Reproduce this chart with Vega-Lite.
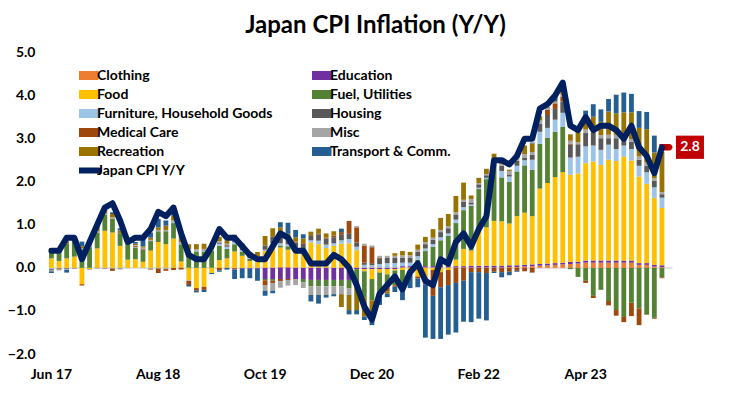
{
  "$schema": "https://vega.github.io/schema/vega-lite/v6.json",
  "width": 623,
  "height": 301.5,
  "autosize": {"type": "none"},
  "padding": {"left": 49, "top": 52.5, "right": 80, "bottom": 40},
  "background": "white",
  "config": {"view": {"stroke": null}, "font": "Lato"},
  "title": {"text": "Japan CPI Inflation (Y/Y)", "font": "Lato", "fontSize": 24, "fontWeight": "bold", "color": "black", "anchor": "middle", "frame": "group", "offset": 8, "dx": 15},
  "datasets": {
    "bars": [
      {"m":"Jun 17","Clothing":0,"Education":-0.01,"Food":0.22,"Fuel":0.21,"Furniture":-0.02,"Housing":-0.02,"Medical":0.01,"Misc":-0.03,"Recreation":0.02,"Transport":-0.04},
      {"m":"Jul 17","Clothing":0,"Education":0,"Food":0.16,"Fuel":0.23,"Furniture":-0.01,"Housing":-0.01,"Medical":-0.02,"Misc":-0.02,"Recreation":0.03,"Transport":0.02},
      {"m":"Aug 17","Clothing":0,"Education":0,"Food":0.22,"Fuel":0.35,"Furniture":-0.01,"Housing":-0.02,"Medical":0.01,"Misc":-0.02,"Recreation":0.04,"Transport":-0.06},
      {"m":"Sep 17","Clothing":0,"Education":0,"Food":0.26,"Fuel":0.38,"Furniture":-0.01,"Housing":-0.01,"Medical":0.01,"Misc":0.01,"Recreation":0.03,"Transport":0.01},
      {"m":"Oct 17","Clothing":0,"Education":0,"Food":-0.38,"Fuel":0.42,"Furniture":0.01,"Housing":0.01,"Medical":-0.03,"Misc":0.02,"Recreation":0.04,"Transport":0.11},
      {"m":"Nov 17","Clothing":0,"Education":0,"Food":-0.03,"Fuel":0.48,"Furniture":0.02,"Housing":-0.01,"Medical":0.01,"Misc":0.02,"Recreation":0.05,"Transport":0.04},
      {"m":"Dec 17","Clothing":0,"Education":0,"Food":0.45,"Fuel":0.36,"Furniture":0.01,"Housing":-0.01,"Medical":0.01,"Misc":0.02,"Recreation":0.06,"Transport":0.08},
      {"m":"Jan 18","Clothing":0,"Education":0,"Food":0.86,"Fuel":0.37,"Furniture":-0.01,"Housing":-0.01,"Medical":0.01,"Misc":0.02,"Recreation":0.07,"Transport":0.06},
      {"m":"Feb 18","Clothing":0,"Education":0,"Food":0.82,"Fuel":0.32,"Furniture":-0.01,"Housing":-0.01,"Medical":-0.05,"Misc":0.03,"Recreation":0.08,"Transport":0.04},
      {"m":"Mar 18","Clothing":0,"Education":0,"Food":0.51,"Fuel":0.29,"Furniture":-0.01,"Housing":-0.01,"Medical":0.01,"Misc":-0.02,"Recreation":0.06,"Transport":0.05},
      {"m":"Apr 18","Clothing":0,"Education":0,"Food":0.19,"Fuel":0.36,"Furniture":-0.01,"Housing":0.01,"Medical":0.01,"Misc":0.02,"Recreation":0.03,"Transport":0.01},
      {"m":"May 18","Clothing":0,"Education":0,"Food":0.2,"Fuel":0.27,"Furniture":0.01,"Housing":0.01,"Medical":0.02,"Misc":0.02,"Recreation":0.03,"Transport":0.04},
      {"m":"Jun 18","Clothing":0,"Education":0,"Food":0.14,"Fuel":0.28,"Furniture":-0.01,"Housing":0.01,"Medical":0.02,"Misc":0.02,"Recreation":0.03,"Transport":0.17},
      {"m":"Jul 18","Clothing":0,"Education":0,"Food":0.4,"Fuel":0.22,"Furniture":-0.02,"Housing":0.01,"Medical":-0.02,"Misc":0.02,"Recreation":0.05,"Transport":0.12},
      {"m":"Aug 18","Clothing":0,"Education":0,"Food":0.6,"Fuel":0.25,"Furniture":-0.01,"Housing":-0.01,"Medical":-0.1,"Misc":0.03,"Recreation":0.06,"Transport":0.2},
      {"m":"Sep 18","Clothing":0,"Education":0,"Food":0.55,"Fuel":0.3,"Furniture":-0.02,"Housing":-0.01,"Medical":-0.04,"Misc":0.03,"Recreation":0.1,"Transport":0.12},
      {"m":"Oct 18","Clothing":0,"Education":0,"Food":0.68,"Fuel":0.36,"Furniture":0.02,"Housing":0.01,"Medical":-0.05,"Misc":0.03,"Recreation":0.12,"Transport":0.1},
      {"m":"Nov 18","Clothing":0,"Education":0,"Food":0.15,"Fuel":0.4,"Furniture":0.01,"Housing":0.01,"Medical":-0.04,"Misc":0.03,"Recreation":0.1,"Transport":0.04},
      {"m":"Dec 18","Clothing":0,"Education":0,"Food":-0.29,"Fuel":0.39,"Furniture":-0.01,"Housing":0.01,"Medical":-0.1,"Misc":0.03,"Recreation":0.12,"Transport":-0.03},
      {"m":"Jan 19","Clothing":0,"Education":0,"Food":-0.47,"Fuel":0.38,"Furniture":0.01,"Housing":0.01,"Medical":-0.06,"Misc":0.03,"Recreation":0.12,"Transport":-0.04},
      {"m":"Feb 19","Clothing":0,"Education":0,"Food":-0.44,"Fuel":0.38,"Furniture":0.02,"Housing":0.01,"Medical":-0.07,"Misc":0.03,"Recreation":0.12,"Transport":-0.05},
      {"m":"Mar 19","Clothing":0,"Education":0,"Food":-0.12,"Fuel":0.4,"Furniture":0.01,"Housing":0.01,"Medical":0.01,"Misc":0.03,"Recreation":0.1,"Transport":-0.02},
      {"m":"Apr 19","Clothing":0,"Education":0,"Food":0.18,"Fuel":0.33,"Furniture":0.05,"Housing":0.03,"Medical":-0.06,"Misc":0.03,"Recreation":0.1,"Transport":-0.03},
      {"m":"May 19","Clothing":0,"Education":0,"Food":0.22,"Fuel":0.22,"Furniture":0.05,"Housing":0.03,"Medical":0.01,"Misc":0.03,"Recreation":0.08,"Transport":-0.04},
      {"m":"Jun 19","Clothing":0,"Education":-0.01,"Food":0.38,"Fuel":0.17,"Furniture":0.05,"Housing":0.04,"Medical":-0.03,"Misc":0.03,"Recreation":0.1,"Transport":-0.22},
      {"m":"Jul 19","Clothing":0,"Education":-0.02,"Food":0.28,"Fuel":0.1,"Furniture":0.03,"Housing":0.03,"Medical":0.02,"Misc":0.03,"Recreation":0.08,"Transport":-0.22},
      {"m":"Aug 19","Clothing":0,"Education":-0.02,"Food":0.16,"Fuel":0.05,"Furniture":0.02,"Housing":0.03,"Medical":0.02,"Misc":0.03,"Recreation":0.06,"Transport":-0.22},
      {"m":"Sep 19","Clothing":0,"Education":-0.02,"Food":0.14,"Fuel":0.02,"Furniture":0.03,"Housing":0.03,"Medical":0.03,"Misc":0.02,"Recreation":0.1,"Transport":-0.28},
      {"m":"Oct 19","Clothing":0.01,"Education":-0.26,"Food":0.38,"Fuel":-0.03,"Furniture":0.03,"Housing":0.1,"Medical":-0.12,"Misc":-0.12,"Recreation":0.22,"Transport":-0.12},
      {"m":"Nov 19","Clothing":0.01,"Education":-0.26,"Food":0.52,"Fuel":-0.04,"Furniture":0.04,"Housing":0.15,"Medical":-0.05,"Misc":-0.18,"Recreation":0.2,"Transport":-0.06},
      {"m":"Dec 19","Clothing":0.02,"Education":-0.26,"Food":0.45,"Fuel":0.05,"Furniture":0.05,"Housing":0.15,"Medical":-0.05,"Misc":-0.15,"Recreation":0.22,"Transport":0.12},
      {"m":"Jan 20","Clothing":0.02,"Education":-0.26,"Food":0.4,"Fuel":0.08,"Furniture":0.05,"Housing":0.12,"Medical":-0.02,"Misc":-0.13,"Recreation":0.12,"Transport":0.26},
      {"m":"Feb 20","Clothing":0.01,"Education":-0.26,"Food":0.35,"Fuel":0.05,"Furniture":0.06,"Housing":0.12,"Medical":0.02,"Misc":-0.14,"Recreation":0.1,"Transport":0.17},
      {"m":"Mar 20","Clothing":0.01,"Education":-0.26,"Food":0.38,"Fuel":-0.08,"Furniture":0.05,"Housing":0.12,"Medical":0.02,"Misc":-0.13,"Recreation":0.1,"Transport":0.1},
      {"m":"Apr 20","Clothing":0.01,"Education":-0.28,"Food":0.58,"Fuel":-0.15,"Furniture":0.05,"Housing":0.1,"Medical":0.02,"Misc":-0.2,"Recreation":0.08,"Transport":-0.15},
      {"m":"May 20","Clothing":0.01,"Education":-0.28,"Food":0.54,"Fuel":-0.15,"Furniture":0.08,"Housing":0.14,"Medical":0.02,"Misc":-0.2,"Recreation":0.12,"Transport":-0.2},
      {"m":"Jun 20","Clothing":0.01,"Education":-0.28,"Food":0.45,"Fuel":-0.15,"Furniture":0.08,"Housing":0.14,"Medical":0.02,"Misc":-0.2,"Recreation":0.1,"Transport":-0.06},
      {"m":"Jul 20","Clothing":0.01,"Education":-0.28,"Food":0.5,"Fuel":-0.15,"Furniture":0.06,"Housing":0.14,"Medical":0.04,"Misc":-0.18,"Recreation":0.1,"Transport":-0.05},
      {"m":"Aug 20","Clothing":0.01,"Education":-0.28,"Food":0.55,"Fuel":-0.15,"Furniture":0.08,"Housing":0.14,"Medical":0.05,"Misc":-0.18,"Recreation":-0.3,"Transport":0.08},
      {"m":"Sep 20","Clothing":0.01,"Education":-0.28,"Food":0.56,"Fuel":-0.2,"Furniture":0.1,"Housing":0.12,"Medical":0.3,"Misc":-0.15,"Recreation":-0.35,"Transport":-0.1},
      {"m":"Oct 20","Clothing":0.01,"Education":-0.03,"Food":0.4,"Fuel":-0.35,"Furniture":0.08,"Housing":0.1,"Medical":0.35,"Misc":0.03,"Recreation":-0.6,"Transport":-0.1},
      {"m":"Nov 20","Clothing":0.01,"Education":-0.03,"Food":-0.05,"Fuel":-0.6,"Furniture":0.06,"Housing":0.05,"Medical":0.4,"Misc":0.04,"Recreation":-0.45,"Transport":-0.08},
      {"m":"Dec 20","Clothing":0.01,"Education":-0.03,"Food":-0.23,"Fuel":-0.5,"Furniture":0.05,"Housing":0.05,"Medical":0.37,"Misc":0.04,"Recreation":-0.45,"Transport":-0.12},
      {"m":"Jan 21","Clothing":0.01,"Education":-0.03,"Food":-0.08,"Fuel":-0.45,"Furniture":0.08,"Housing":0.12,"Medical":0.02,"Misc":0.05,"Recreation":-0.15,"Transport":-0.15},
      {"m":"Feb 21","Clothing":0.01,"Education":-0.03,"Food":-0.12,"Fuel":-0.3,"Furniture":0.1,"Housing":0.12,"Medical":-0.1,"Misc":0.05,"Recreation":-0.05,"Transport":-0.08},
      {"m":"Mar 21","Clothing":0.01,"Education":-0.03,"Food":-0.03,"Fuel":-0.35,"Furniture":0.1,"Housing":0.12,"Medical":-0.03,"Misc":0.05,"Recreation":0.06,"Transport":-0.12},
      {"m":"Apr 21","Clothing":0.01,"Education":0.03,"Food":-0.05,"Fuel":-0.3,"Furniture":0.08,"Housing":0.12,"Medical":-0.05,"Misc":0.05,"Recreation":0.1,"Transport":-0.35},
      {"m":"May 21","Clothing":0.01,"Education":0.03,"Food":-0.1,"Fuel":-0.05,"Furniture":0.08,"Housing":0.12,"Medical":-0.02,"Misc":0.05,"Recreation":0.08,"Transport":-0.3},
      {"m":"Jun 21","Clothing":0.01,"Education":0.03,"Food":-0.2,"Fuel":0.15,"Furniture":0.08,"Housing":0.1,"Medical":-0.05,"Misc":0.05,"Recreation":0.12,"Transport":-0.2},
      {"m":"Jul 21","Clothing":0.01,"Education":0.03,"Food":-0.23,"Fuel":0.35,"Furniture":0.06,"Housing":0.1,"Medical":-0.15,"Misc":0.05,"Recreation":0.12,"Transport":-1.24},
      {"m":"Aug 21","Clothing":0.01,"Education":0.03,"Food":-0.05,"Fuel":0.45,"Furniture":0.06,"Housing":0.1,"Medical":-0.6,"Misc":0.05,"Recreation":0.2,"Transport":-1.0},
      {"m":"Sep 21","Clothing":0.01,"Education":0.03,"Food":-0.1,"Fuel":0.6,"Furniture":0.07,"Housing":0.12,"Medical":-0.35,"Misc":0.05,"Recreation":0.28,"Transport":-1.2},
      {"m":"Oct 21","Clothing":0.01,"Education":0.03,"Food":-0.05,"Fuel":0.7,"Furniture":0.06,"Housing":0.12,"Medical":-0.35,"Misc":0.05,"Recreation":0.28,"Transport":-1.15},
      {"m":"Nov 21","Clothing":0.01,"Education":0.03,"Food":0.15,"Fuel":0.85,"Furniture":0.08,"Housing":0.12,"Medical":-0.35,"Misc":0.05,"Recreation":0.38,"Transport":-1.15},
      {"m":"Dec 21","Clothing":0.01,"Education":0.03,"Food":0.4,"Fuel":0.9,"Furniture":0.07,"Housing":0.12,"Medical":-0.3,"Misc":0.05,"Recreation":0.4,"Transport":-0.95},
      {"m":"Jan 22","Clothing":0.01,"Education":0.04,"Food":0.35,"Fuel":1.04,"Furniture":0.03,"Housing":0.05,"Medical":-0.1,"Misc":0.08,"Recreation":0.08,"Transport":-1.16},
      {"m":"Feb 22","Clothing":0.01,"Education":0.04,"Food":0.85,"Fuel":0.93,"Furniture":0.03,"Housing":0.08,"Medical":-0.1,"Misc":0.03,"Recreation":0.12,"Transport":-1.08},
      {"m":"Mar 22","Clothing":0.01,"Education":0.04,"Food":0.89,"Fuel":1.12,"Furniture":0.03,"Housing":0.06,"Medical":-0.12,"Misc":0.03,"Recreation":0.12,"Transport":-1.1},
      {"m":"Apr 22","Clothing":0.01,"Education":0.04,"Food":1.04,"Fuel":1.31,"Furniture":0.05,"Housing":0.06,"Medical":-0.09,"Misc":0.04,"Recreation":0.1,"Transport":-0.03},
      {"m":"May 22","Clothing":0.01,"Education":0.04,"Food":1.03,"Fuel":1.02,"Furniture":0.15,"Housing":0.12,"Medical":-0.1,"Misc":0.04,"Recreation":0.1,"Transport":-0.12},
      {"m":"Jun 22","Clothing":0.02,"Education":0.04,"Food":0.97,"Fuel":0.97,"Furniture":0.12,"Housing":0.05,"Medical":-0.09,"Misc":0.08,"Recreation":0.03,"Transport":-0.08},
      {"m":"Jul 22","Clothing":0.02,"Education":0.04,"Food":1.14,"Fuel":1.04,"Furniture":0.13,"Housing":0.12,"Medical":-0.07,"Misc":0.05,"Recreation":0.1,"Transport":-0.02},
      {"m":"Aug 22","Clothing":0.03,"Education":0.04,"Food":1.21,"Fuel":1.1,"Furniture":0.12,"Housing":0.06,"Medical":-0.08,"Misc":0.08,"Recreation":0.2,"Transport":0},
      {"m":"Sep 22","Clothing":0.04,"Education":0.04,"Food":1.12,"Fuel":1.08,"Furniture":0.23,"Housing":0.12,"Medical":-0.11,"Misc":0.06,"Recreation":0.2,"Transport":0.02},
      {"m":"Oct 22","Clothing":0.05,"Education":0.04,"Food":1.75,"Fuel":1.04,"Furniture":0.28,"Housing":0.18,"Medical":0,"Misc":0.08,"Recreation":0.1,"Transport":0},
      {"m":"Nov 22","Clothing":0.06,"Education":0.04,"Food":1.87,"Fuel":1.05,"Furniture":0.23,"Housing":0.3,"Medical":0.12,"Misc":0.04,"Recreation":0.02,"Transport":0},
      {"m":"Dec 22","Clothing":0.07,"Education":0.04,"Food":2.0,"Fuel":1.05,"Furniture":0.28,"Housing":0.25,"Medical":0.13,"Misc":0.03,"Recreation":0.02,"Transport":0.1},
      {"m":"Jan 23","Clothing":0.08,"Education":0.04,"Food":2.1,"Fuel":1.05,"Furniture":0.33,"Housing":0.26,"Medical":0.12,"Misc":0.04,"Recreation":0.05,"Transport":0.15},
      {"m":"Feb 23","Clothing":0.09,"Education":0.05,"Food":2.02,"Fuel":-0.03,"Furniture":0.4,"Housing":0.3,"Medical":0.02,"Misc":0.07,"Recreation":0.15,"Transport":0},
      {"m":"Mar 23","Clothing":0.1,"Education":0.04,"Food":2.05,"Fuel":-0.21,"Furniture":0.39,"Housing":0.29,"Medical":0,"Misc":0.05,"Recreation":0.35,"Transport":0},
      {"m":"Apr 23","Clothing":0.12,"Education":0.05,"Food":2.26,"Fuel":-0.3,"Furniture":0.39,"Housing":0.31,"Medical":-0.05,"Misc":0.08,"Recreation":0.29,"Transport":0.15},
      {"m":"May 23","Clothing":0.12,"Education":0.05,"Food":2.3,"Fuel":-0.65,"Furniture":0.37,"Housing":0.31,"Medical":-0.05,"Misc":0.07,"Recreation":0.29,"Transport":0.29},
      {"m":"Jun 23","Clothing":0.12,"Education":0.05,"Food":2.22,"Fuel":-0.51,"Furniture":0.35,"Housing":0.27,"Medical":0,"Misc":0.07,"Recreation":0.31,"Transport":0.29},
      {"m":"Jul 23","Clothing":0.12,"Education":0.05,"Food":2.34,"Fuel":-0.77,"Furniture":0.35,"Housing":0.15,"Medical":-0.1,"Misc":0.08,"Recreation":0.54,"Transport":0.29},
      {"m":"Aug 23","Clothing":0.12,"Education":0.05,"Food":2.31,"Fuel":-0.98,"Furniture":0.28,"Housing":0.25,"Medical":-0.13,"Misc":0.08,"Recreation":0.5,"Transport":0.43},
      {"m":"Sep 23","Clothing":0.12,"Education":0.05,"Food":2.41,"Fuel":-1.14,"Furniture":0.26,"Housing":0.13,"Medical":-0.12,"Misc":0.06,"Recreation":0.58,"Transport":0.46},
      {"m":"Oct 23","Clothing":0.12,"Education":0.05,"Food":2.32,"Fuel":-0.81,"Furniture":0.27,"Housing":0.17,"Medical":-0.31,"Misc":0.06,"Recreation":0.62,"Transport":0.43},
      {"m":"Nov 23","Clothing":0.07,"Education":0.04,"Food":2.01,"Fuel":-0.94,"Furniture":0.25,"Housing":0.14,"Medical":-0.39,"Misc":0.08,"Recreation":0.66,"Transport":0.39},
      {"m":"Dec 23","Clothing":0.07,"Education":0.04,"Food":1.84,"Fuel":-1.08,"Furniture":0.27,"Housing":0.15,"Medical":-0.01,"Misc":0.08,"Recreation":0.77,"Transport":0.4},
      {"m":"Jan 24","Clothing":0.03,"Education":0.04,"Food":1.55,"Fuel":-1.16,"Furniture":0.25,"Housing":0.15,"Medical":-0.02,"Misc":0.06,"Recreation":0.6,"Transport":0.39},
      {"m":"Feb 24","Clothing":0.02,"Education":0.04,"Food":1.33,"Fuel":-0.22,"Furniture":0.24,"Housing":0.08,"Medical":-0.02,"Misc":0.05,"Recreation":0.93,"Transport":0}
    ],
    "cpi": [
      {"m":"Jun 17","v":0.4},{"m":"Jul 17","v":0.4},{"m":"Aug 17","v":0.7},{"m":"Sep 17","v":0.7},{"m":"Oct 17","v":0.2},{"m":"Nov 17","v":0.6},{"m":"Dec 17","v":1.0},
      {"m":"Jan 18","v":1.4},{"m":"Feb 18","v":1.5},{"m":"Mar 18","v":1.1},{"m":"Apr 18","v":0.6},{"m":"May 18","v":0.7},{"m":"Jun 18","v":0.7},{"m":"Jul 18","v":0.9},{"m":"Aug 18","v":1.3},{"m":"Sep 18","v":1.2},{"m":"Oct 18","v":1.4},{"m":"Nov 18","v":0.8},{"m":"Dec 18","v":0.3},
      {"m":"Jan 19","v":0.2},{"m":"Feb 19","v":0.2},{"m":"Mar 19","v":0.5},{"m":"Apr 19","v":0.9},{"m":"May 19","v":0.7},{"m":"Jun 19","v":0.7},{"m":"Jul 19","v":0.5},{"m":"Aug 19","v":0.3},{"m":"Sep 19","v":0.2},{"m":"Oct 19","v":0.2},{"m":"Nov 19","v":0.5},{"m":"Dec 19","v":0.8},
      {"m":"Jan 20","v":0.7},{"m":"Feb 20","v":0.4},{"m":"Mar 20","v":0.4},{"m":"Apr 20","v":0.1},{"m":"May 20","v":0.1},{"m":"Jun 20","v":0.1},{"m":"Jul 20","v":0.3},{"m":"Aug 20","v":0.2},{"m":"Sep 20","v":0.0},{"m":"Oct 20","v":-0.4},{"m":"Nov 20","v":-0.9},{"m":"Dec 20","v":-1.2},
      {"m":"Jan 21","v":-0.6},{"m":"Feb 21","v":-0.4},{"m":"Mar 21","v":-0.2},{"m":"Apr 21","v":-0.5},{"m":"May 21","v":-0.1},{"m":"Jun 21","v":0.1},{"m":"Jul 21","v":-0.3},{"m":"Aug 21","v":-0.4},{"m":"Sep 21","v":0.2},{"m":"Oct 21","v":0.1},{"m":"Nov 21","v":0.6},{"m":"Dec 21","v":0.8},
      {"m":"Jan 22","v":0.5},{"m":"Feb 22","v":0.9},{"m":"Mar 22","v":1.2},{"m":"Apr 22","v":2.5},{"m":"May 22","v":2.5},{"m":"Jun 22","v":2.4},{"m":"Jul 22","v":2.6},{"m":"Aug 22","v":3.0},{"m":"Sep 22","v":3.0},{"m":"Oct 22","v":3.7},{"m":"Nov 22","v":3.8},{"m":"Dec 22","v":4.0},
      {"m":"Jan 23","v":4.3},{"m":"Feb 23","v":3.3},{"m":"Mar 23","v":3.2},{"m":"Apr 23","v":3.5},{"m":"May 23","v":3.2},{"m":"Jun 23","v":3.3},{"m":"Jul 23","v":3.3},{"m":"Aug 23","v":3.2},{"m":"Sep 23","v":3.0},{"m":"Oct 23","v":3.3},{"m":"Nov 23","v":2.8},{"m":"Dec 23","v":2.6},
      {"m":"Jan 24","v":2.2},{"m":"Feb 24","v":2.8}
    ]
  },
  "encoding": {
    "x": {
      "field": "m", "type": "ordinal",
      "scale": {
        "domain": ["Jun 17","Jul 17","Aug 17","Sep 17","Oct 17","Nov 17","Dec 17",
          "Jan 18","Feb 18","Mar 18","Apr 18","May 18","Jun 18","Jul 18","Aug 18","Sep 18","Oct 18","Nov 18","Dec 18",
          "Jan 19","Feb 19","Mar 19","Apr 19","May 19","Jun 19","Jul 19","Aug 19","Sep 19","Oct 19","Nov 19","Dec 19",
          "Jan 20","Feb 20","Mar 20","Apr 20","May 20","Jun 20","Jul 20","Aug 20","Sep 20","Oct 20","Nov 20","Dec 20",
          "Jan 21","Feb 21","Mar 21","Apr 21","May 21","Jun 21","Jul 21","Aug 21","Sep 21","Oct 21","Nov 21","Dec 21",
          "Jan 22","Feb 22","Mar 22","Apr 22","May 22","Jun 22","Jul 22","Aug 22","Sep 22","Oct 22","Nov 22","Dec 22",
          "Jan 23","Feb 23","Mar 23","Apr 23","May 23","Jun 23","Jul 23","Aug 23","Sep 23","Oct 23","Nov 23","Dec 23",
          "Jan 24","Feb 24","Mar 24"],
        "paddingInner": 0.37, "paddingOuter": 0
      },
      "axis": {
        "values": ["Jun 17","Aug 18","Oct 19","Dec 20","Feb 22","Apr 23"],
        "title": null, "labelAngle": 0, "ticks": false, "domain": false, "grid": false,
        "labelPadding": 13, "labelFont": "Lato", "labelFontSize": 14, "labelFontWeight": "bold", "labelColor": "black"
      }
    }
  },
  "layer": [
    {
      "data": {"name": "bars"},
      "transform": [{"fold": ["Clothing","Education","Food","Fuel","Furniture","Housing","Medical","Misc","Recreation","Transport"], "as": ["cat", "v"]}],
      "mark": {"type": "bar"},
      "encoding": {
        "y": {
          "field": "v", "type": "quantitative", "stack": "zero",
          "scale": {"domain": [-2, 5], "nice": false, "zero": false},
          "axis": {
            "values": [-2, -1, 0, 1, 2, 3, 4, 5], "format": ".1f", "title": null,
            "ticks": false, "domain": false, "grid": true, "gridColor": "#D9D9D9", "gridWidth": 1.5,
            "gridOpacity": {"condition": {"test": "datum.value === 0", "value": 1}, "value": 0},
            "labelPadding": 14, "labelFont": "Lato", "labelFontSize": 14, "labelFontWeight": "bold", "labelColor": "black"
          }
        },
        "order": {"field": "cat", "type": "ordinal", "sort": "ascending"},
        "color": {
          "field": "cat", "type": "nominal",
          "scale": {
            "domain": ["Clothing","Education","Food","Fuel","Furniture","Housing","Medical","Misc","Recreation","Transport","Japan CPI Y/Y"],
            "range": ["#ED7D31","#7030A0","#FFC000","#548235","#9DC3E6","#595959","#9E480E","#A5A5A5","#997300","#255E91","#002060"]
          },
          "legend": {
            "title": null, "orient": "none", "legendX": 30, "legendY": 13.5, "direction": "horizontal", "columns": 2,
            "padding": 0, "labelFont": "Lato", "labelFontSize": 14, "labelFontWeight": "bold", "labelColor": "black",
            "labelOffset": 4, "symbolSize": 625, "clipHeight": 19, "rowPadding": 0, "columnPadding": 39, "labelLimit": 300,
            "labelExpr": "datum.value === 'Fuel' ? 'Fuel, Utilities' : datum.value === 'Furniture' ? 'Furniture, Household Goods' : datum.value === 'Medical' ? 'Medical Care' : datum.value === 'Transport' ? 'Transport & Comm.' : datum.label",
            "encode": {
              "symbols": {
                "update": {
                  "shape": {"signal": "datum.value === 'Japan CPI Y/Y' ? 'M-1,0H1' : 'M-1,-0.36H1V0.36H-1Z'"},
                  "fill": {"signal": "datum.value === 'Japan CPI Y/Y' ? 'transparent' : scale('color', datum.value)"},
                  "stroke": {"signal": "datum.value === 'Japan CPI Y/Y' ? '#002060' : 'transparent'"},
                  "strokeWidth": {"signal": "datum.value === 'Japan CPI Y/Y' ? 6 : 0"},
                  "strokeCap": {"value": "round"},
                  "opacity": {"value": 1}
                }
              }
            }
          }
        }
      }
    },
    {
      "data": {"name": "cpi"},
      "transform": [{"filter": "datum.m === 'Feb 24'"}],
      "mark": {"type": "point", "shape": "M-1,-0.5H0.5A0.5,0.5 0 0 1 0.5,0.5H-1Z", "size": 169, "filled": true, "color": "#C00000", "opacity": 1, "xOffset": 4},
      "encoding": {"y": {"field": "v", "type": "quantitative"}}
    },
    {
      "data": {"name": "cpi"},
      "mark": {"type": "line", "strokeWidth": 6, "strokeCap": "round", "strokeJoin": "round"},
      "encoding": {
        "y": {"field": "v", "type": "quantitative"},
        "color": {"datum": "Japan CPI Y/Y", "type": "nominal"}
      }
    },
    {
      "data": {"name": "cpi"},
      "transform": [{"filter": "datum.m === 'Feb 24'"}],
      "mark": {"type": "point", "shape": "M-1,-0.83H1V0.83H-1Z", "size": 784, "filled": true, "color": "#C00000", "opacity": 1, "xOffset": 28},
      "encoding": {"y": {"field": "v", "type": "quantitative"}}
    },
    {
      "data": {"name": "cpi"},
      "transform": [{"filter": "datum.m === 'Feb 24'"}],
      "mark": {"type": "text", "font": "Lato", "fontWeight": "bold", "fontSize": 14, "color": "white", "xOffset": 28, "align": "center", "baseline": "middle"},
      "encoding": {
        "y": {"field": "v", "type": "quantitative"},
        "text": {"field": "v", "type": "quantitative", "format": ".1f"}
      }
    }
  ]
}
